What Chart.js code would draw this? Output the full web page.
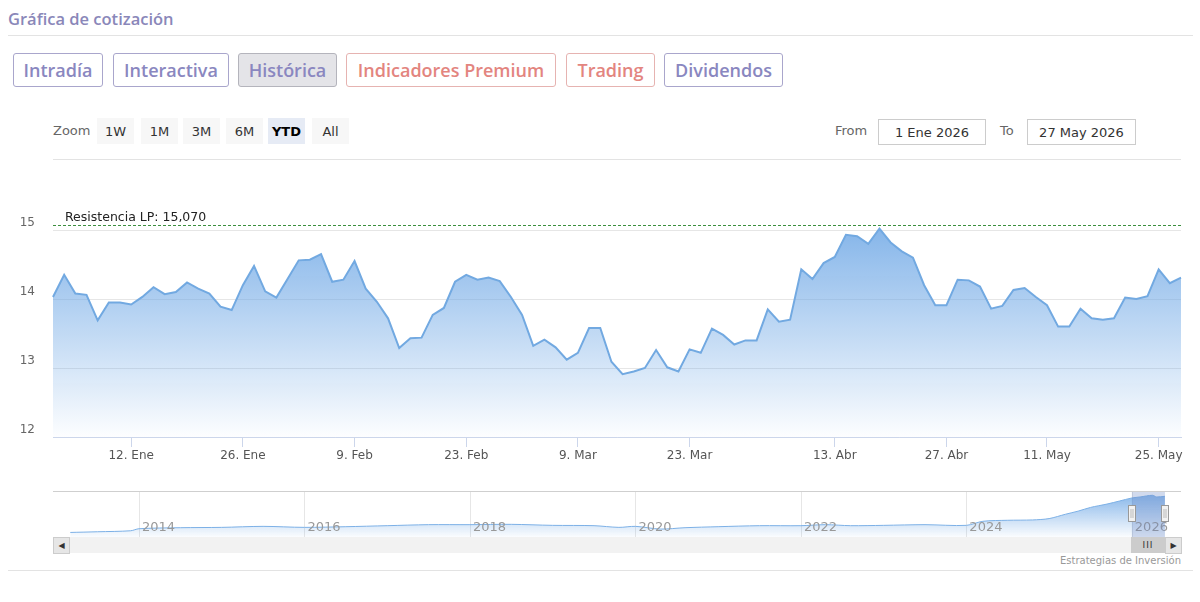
<!DOCTYPE html>
<html lang="es">
<head>
<meta charset="utf-8">
<title>Gráfica de cotización</title>
<script src="https://cdn.jsdelivr.net/npm/chart.js@4.4.1/dist/chart.umd.min.js"></script>
<style>
  body { margin: 0; background: #fff; font-family: 'DejaVu Sans', sans-serif; }
  #page { position: relative; width: 1200px; height: 602px; overflow: hidden; }
  .abs { position: absolute; }
  .titulo { left: 8px; top: 7px; font: 600 16.5px 'Open Sans', sans-serif; color: #8a87b9; }
  .regla { height: 1px; background: #e3e3e3; }
  .tab { position: absolute; top: 53px; height: 34px; box-sizing: border-box; border: 1px solid #a9a6cc;
         border-radius: 3px; font: 600 18px 'Open Sans', sans-serif; color: #8a87c0;
         display: flex; align-items: center; justify-content: center; }
  .tab.activa { background: #e4e4e8; border-color: #b4b4bc; }
  .tab.premium { border-color: #e6b3b1; color: #e3857f; }
  .zoomtxt { left: 53px; top: 123px; font-size: 13px; color: #666; }
  .btn { position: absolute; top: 118px; height: 26px; width: 37px; background: #f7f7f7; font-size: 13px;
         color: #333; display: flex; align-items: center; justify-content: center; }
  .btn.sel { background: #e6ebf5; font-weight: bold; color: #000; }
  .lbl { font-size: 13px; color: #666; top: 123px; }
  .caja { position: absolute; top: 119px; height: 26px; box-sizing: border-box; border: 1px solid #ccc;
          font-size: 13px; color: #333; display: flex; align-items: center; justify-content: center; }
  canvas { display: block; }
</style>
</head>
<body>
<div id="page">
  <div class="abs titulo">Gráfica de cotización</div>
  <div class="abs regla" style="left:8px; top:35px; width:1185px;"></div>

  <div class="tab" style="left:13px; width:90px;">Intradía</div>
  <div class="tab" style="left:113px; width:116px;">Interactiva</div>
  <div class="tab activa" style="left:238px; width:99px;">Histórica</div>
  <div class="tab premium" style="left:346px; width:210px;">Indicadores Premium</div>
  <div class="tab premium" style="left:566px; width:89px;">Trading</div>
  <div class="tab" style="left:664px; width:119px;">Dividendos</div>

  <div class="abs zoomtxt">Zoom</div>
  <div class="btn" style="left:97px;">1W</div>
  <div class="btn" style="left:141px;">1M</div>
  <div class="btn" style="left:183px;">3M</div>
  <div class="btn" style="left:226px;">6M</div>
  <div class="btn sel" style="left:268px;">YTD</div>
  <div class="btn" style="left:312px;">All</div>

  <div class="abs lbl" style="left:835px;">From</div>
  <div class="caja" style="left:878px; width:108px;">1 Ene 2026</div>
  <div class="abs lbl" style="left:1000px;">To</div>
  <div class="caja" style="left:1027px; width:109px;">27 May 2026</div>

  <div class="abs regla" style="left:53px; top:159px; width:1128px;"></div>

  <div class="abs" style="left:0; top:160px; width:1200px; height:310px;">
    <canvas id="grafico" width="1200" height="310"></canvas>
  </div>

  <div class="abs" style="left:53px; top:491px; width:1128px; height:1px; background:#cfcfcf;"></div>
  <div class="abs" style="left:53px; top:492px; width:1128px; height:45px;">
    <canvas id="navegador" width="1128" height="45"></canvas>
  </div>

  <!-- barra de desplazamiento -->
  <div class="abs" style="left:53px; top:537px; width:1128px; height:16px; background:#f2f2f2;"></div>
  <div class="abs" style="left:53px; top:537px; width:15px; height:15px; background:#e6e6e6; border:1px solid #cccccc; font-size:8px; color:#333; display:flex; align-items:center; justify-content:center;">&#9664;</div>
  <div class="abs" style="left:1131px; top:537px; width:34px; height:16px; background:#cccccc; font-size:9px; color:#333; display:flex; align-items:center; justify-content:center; letter-spacing:1px;">III</div>
  <div class="abs" style="left:1165px; top:537px; width:15px; height:15px; background:#e6e6e6; border:1px solid #cccccc; font-size:8px; color:#333; display:flex; align-items:center; justify-content:center;">&#9654;</div>

  <div class="abs" style="right:19px; top:555px; font-size:10px; color:#999;">Estrategias de Inversión</div>
  <div class="abs regla" style="left:8px; top:570px; width:1185px;"></div>
</div>

<script>
  // Sesiones YTD 2026 (mercado continuo)
  const mesesCortos = ['Ene', 'Feb', 'Mar', 'Abr', 'May'];
  const festivos = ['2026-04-03', '2026-04-06', '2026-05-01'];
  const inicioSerie = '2026-01-01';
  const finSerie = '2026-05-27';

  const cotizacion = [
    14.03, 14.35, 14.08, 14.06, 13.69, 13.95, 13.95, 13.92, 14.03, 14.17,
    14.07, 14.10, 14.24, 14.15, 14.08, 13.89, 13.84, 14.20, 14.48, 14.11,
    14.02, 14.29, 14.56, 14.57, 14.65, 14.25, 14.28, 14.55, 14.15, 13.96,
    13.72, 13.29, 13.43, 13.44, 13.77, 13.87, 14.25, 14.35, 14.28, 14.31,
    14.26, 14.03, 13.77, 13.32, 13.41, 13.30, 13.12, 13.22, 13.58, 13.58,
    13.09, 12.91, 12.95, 13.00, 13.26, 13.01, 12.95, 13.27, 13.22, 13.57,
    13.48, 13.34, 13.40, 13.40, 13.85, 13.67, 13.70, 14.43, 14.29, 14.52,
    14.61, 14.93, 14.91, 14.80, 15.02, 14.82, 14.69, 14.60, 14.20, 13.91,
    13.91, 14.28, 14.27, 14.18, 13.86, 13.90, 14.13, 14.16, 14.03, 13.91,
    13.60, 13.60, 13.86, 13.72, 13.70, 13.72, 14.02, 14.00, 14.04, 14.43,
    14.23, 14.31
  ];

  const etiquetasEjeX = ['12. Ene', '26. Ene', '9. Feb', '23. Feb', '9. Mar', '23. Mar',
                         '13. Abr', '27. Abr', '11. May', '25. May'];
  const resistenciaLP = 15.07;

  // Histórico para el navegador (años y cierre aproximado)
  const navAnios = [2013.17, 2013.5, 2013.9, 2014.0, 2014.5, 2015.0, 2015.5, 2016.0, 2016.5, 2017.0,
                    2017.5, 2018.0, 2018.5, 2019.0, 2019.5, 2019.8, 2020.0, 2020.3, 2020.6, 2021.0,
                    2021.5, 2022.0, 2022.3, 2022.6, 2023.0, 2023.5, 2024.0, 2024.2, 2024.5, 2024.8,
                    2025.0, 2025.2, 2025.35, 2025.5, 2025.7, 2025.85, 2026.0, 2026.1, 2026.25, 2026.3, 2026.4];
  const navCierres = [3.9, 4.1, 4.4, 5.0, 5.3, 5.4, 5.7, 5.4, 5.6, 5.9,
                      6.2, 6.2, 6.3, 6.0, 5.9, 5.4, 5.7, 4.9, 5.3, 5.6,
                      5.9, 5.9, 6.2, 5.9, 6.0, 6.2, 6.0, 7.2, 7.5, 7.6,
                      8.0, 9.3, 10.2, 11.3, 12.3, 13.2, 14.1, 14.4, 14.9, 14.4, 14.6];
  const navEtiquetas = [2014, 2016, 2018, 2020, 2022, 2024, 2026];
  const navSeleccion = [2026.0, 2026.4];

  function sesiones(desde, hasta) {
    const out = [];
    const d = new Date(desde + 'T00:00:00Z');
    const fin = new Date(hasta + 'T00:00:00Z');
    while (d <= fin) {
      const iso = d.toISOString().slice(0, 10);
      const dia = d.getUTCDay();
      if (dia !== 0 && dia !== 6 && !festivos.includes(iso)) {
        out.push(d.getUTCDate() + '. ' + mesesCortos[d.getUTCMonth()]);
      }
      d.setUTCDate(d.getUTCDate() + 1);
    }
    return out;
  }
  const fechas = sesiones(inicioSerie, finSerie);

  Chart.defaults.font.family = "'DejaVu Sans', sans-serif";
  Chart.defaults.animation = false;

  function degradado(context, a0, a1) {
    const area = context.chart.chartArea;
    if (!area) return 'rgba(124,181,236,0.4)';
    const g = context.chart.ctx.createLinearGradient(0, area.top, 0, area.bottom);
    g.addColorStop(0, 'rgba(108,166,229,' + a0 + ')');
    g.addColorStop(1, 'rgba(108,166,229,' + a1 + ')');
    return g;
  }

  const lineaResistencia = {
    id: 'lineaResistencia',
    afterDatasetsDraw(chart) {
      const { ctx, chartArea, scales } = chart;
      const y = Math.round(scales.y.getPixelForValue(resistenciaLP)) + 0.5;
      ctx.save();
      ctx.strokeStyle = '#3b8f3e';
      ctx.lineWidth = 1;
      ctx.setLineDash([3, 2]);
      ctx.beginPath();
      ctx.moveTo(chartArea.left, y);
      ctx.lineTo(chartArea.right, y);
      ctx.stroke();
      ctx.setLineDash([]);
      ctx.fillStyle = '#222';
      ctx.font = "12.5px 'DejaVu Sans'";
      ctx.fillText('Resistencia LP: ' + resistenciaLP.toFixed(3).replace('.', ','), chartArea.left + 12, y - 5);
      ctx.restore();
    }
  };

  new Chart(document.getElementById('grafico'), {
    type: 'line',
    data: {
      labels: fechas,
      datasets: [{
        data: cotizacion,
        borderColor: '#72a9e1',
        borderWidth: 2,
        backgroundColor: (c) => degradado(c, 0.95, 0.02),
        fill: 'start',
        pointRadius: 0,
        tension: 0
      }]
    },
    options: {
      responsive: false,
      layout: { padding: { top: 35.5, right: 19, left: 0, bottom: 0 } },
      plugins: { legend: { display: false }, tooltip: { enabled: false } },
      scales: {
        x: {
          type: 'category',
          afterBuildTicks: (s) => { s.ticks = s.ticks.filter(t => etiquetasEjeX.includes(fechas[t.value])); },
          afterFit: (s) => { s.height = 33; },
          grid: { drawOnChartArea: false, tickLength: 10, color: '#ccd6eb' },
          border: { color: '#ccd6eb' },
          ticks: { autoSkip: false, maxRotation: 0, padding: 2, color: '#555', font: { size: 12 } }
        },
        y: {
          min: 12,
          max: 15.5,
          afterBuildTicks: (s) => { s.ticks = s.ticks.filter(t => Number.isInteger(t.value)); },
          afterFit: (s) => { s.width = 53; },
          grid: { color: '#e6e6e6', drawTicks: false },
          border: { display: false },
          ticks: { stepSize: 1, labelOffset: -7, padding: 18, color: '#666', font: { size: 12 } }
        }
      }
    },
    plugins: [lineaResistencia]
  });

  const decoNavegador = {
    id: 'decoNavegador',
    beforeDatasetsDraw(chart) {
      const { ctx, chartArea, scales } = chart;
      ctx.save();
      ctx.strokeStyle = '#e6e6e6';
      ctx.lineWidth = 1;
      navEtiquetas.forEach(a => {
        const x = Math.round(scales.x.getPixelForValue(a)) + 0.5;
        ctx.beginPath(); ctx.moveTo(x, chartArea.top); ctx.lineTo(x, chartArea.bottom); ctx.stroke();
      });
      ctx.restore();
    },
    afterDatasetsDraw(chart) {
      const { ctx, chartArea, scales } = chart;
      ctx.save();
      ctx.fillStyle = '#999';
      ctx.font = "13px 'DejaVu Sans'";
      ctx.textBaseline = 'middle';
      navEtiquetas.forEach(a => {
        ctx.fillText(String(a), scales.x.getPixelForValue(a) + 3, 36);
      });
      const x0 = scales.x.getPixelForValue(navSeleccion[0]);
      const x1 = scales.x.getPixelForValue(navSeleccion[1]);
      ctx.fillStyle = 'rgba(102,133,194,0.3)';
      ctx.fillRect(x0, chartArea.top, x1 - x0, chartArea.bottom - chartArea.top);
      [x0, x1].forEach(x => {
        const hx = Math.round(x - 3.5) + 0.5;
        ctx.fillStyle = '#f2f2f2';
        ctx.strokeStyle = '#999';
        ctx.fillRect(hx, 13.5, 7, 16);
        ctx.strokeRect(hx, 13.5, 7, 16);
        ctx.beginPath();
        ctx.moveTo(hx + 2.5, 17); ctx.lineTo(hx + 2.5, 26);
        ctx.moveTo(hx + 4.5, 17); ctx.lineTo(hx + 4.5, 26);
        ctx.strokeStyle = '#bbb';
        ctx.stroke();
      });
      ctx.restore();
    }
  };

  new Chart(document.getElementById('navegador'), {
    type: 'line',
    data: {
      datasets: [{
        data: navAnios.map((a, i) => ({ x: a, y: navCierres[i] })),
        borderColor: '#7cb0e6',
        borderWidth: 1,
        backgroundColor: (c) => degradado(c, 0.85, 0.03),
        fill: 'start',
        pointRadius: 0,
        tension: 0.3
      }]
    },
    options: {
      responsive: false,
      layout: { padding: 0 },
      plugins: { legend: { display: false }, tooltip: { enabled: false } },
      scales: {
        x: { type: 'linear', display: false, min: 2012.961, max: 2026.594 },
        y: { display: false, min: 2.55, max: 15.87 }
      }
    },
    plugins: [decoNavegador]
  });
</script>
</body>
</html>
